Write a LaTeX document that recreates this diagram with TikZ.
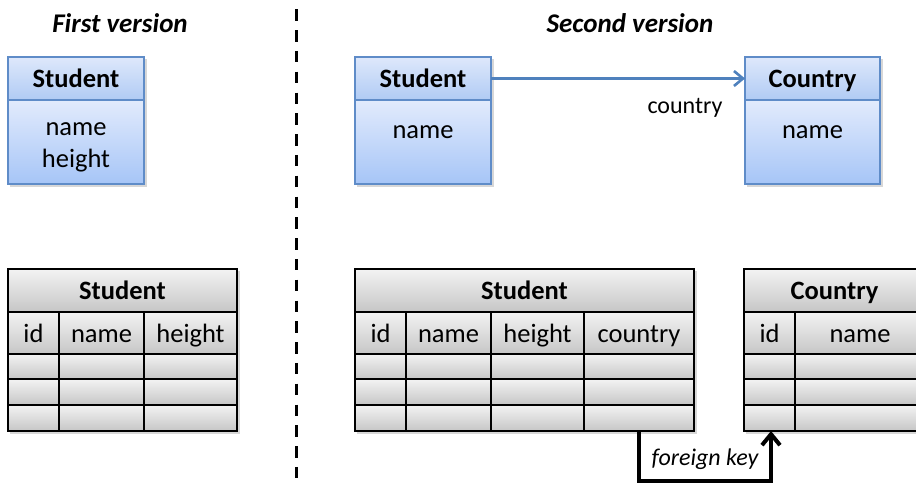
\documentclass[tikz,border=0pt]{standalone}
\usepackage{fontspec}
\setmainfont{Carlito}
\usetikzlibrary{arrows.meta,shadows}

\definecolor{umlline}{RGB}{95,140,200}
\definecolor{headtop}{RGB}{222,232,251}
\definecolor{headbot}{RGB}{176,203,244}
\definecolor{bodytop}{RGB}{226,235,252}
\definecolor{bodybot}{RGB}{166,197,247}
\definecolor{celltop}{RGB}{243,243,243}
\definecolor{cellbot}{RGB}{198,198,198}
\definecolor{linkblue}{RGB}{79,129,189}

% table cell: name, x1, y1, x2, y2, text
\newcommand\tcell[6]{%
  \node[cell, minimum width={(#4-#2)*1pt}, minimum height={(#5-#3)*1pt}]
    (#1) at ({(#2+#4)/2},{(#3+#5)/2}) {#6};}
% class box part: name, x1, y1, x2, y2, style, text
\newcommand\cpart[7]{%
  \node[#6, minimum width={(#4-#2)*1pt}, minimum height={(#5-#3)*1pt}]
    (#1) at ({(#2+#4)/2},{(#3+#5)/2}) {#7};}

\begin{document}
\begin{tikzpicture}[x=1pt,y=-1pt,
  every node/.style={font=\fontsize{26.5}{31}\selectfont, inner sep=0pt, outer sep=0pt,
    text height=20pt, text depth=2pt},
  cell/.style={draw=black, line width=1.4pt, top color=celltop, bottom color=cellbot},
  umlhead/.style={draw=umlline, line width=1.3pt, top color=headtop, bottom color=headbot,
    font=\fontsize{26.5}{31}\selectfont\bfseries},
  umlbody/.style={draw=umlline, line width=1.3pt, top color=bodytop, bottom color=bodybot},
  caption/.style={font=\fontsize{27}{32}\selectfont\bfseries\itshape},
  boxshadow/.style={fill=black!35, opacity=0.45},
]
\useasboundingbox (0,0) rectangle (916,485);
\clip (0,0) rectangle (916,485);

% headings
\node[caption] (cap1) at (120,23) {First version};
\node[caption] (cap2) at (630,23) {Second version};

% separator
\draw[line width=3pt, dash pattern=on 11.5pt off 9.3pt] (296,9.3) -- (296,490);

% soft shadows behind boxes and tables
\foreach \xa/\ya/\xb/\yb in {8/57/144/184, 355/57/491/184, 745/57/880/184,
                              8/269/237/431, 355/269/694/431, 744/269/925/431}
  \fill[boxshadow] (\xa+2,\ya+2) rectangle (\xb+2.5,\yb+3);

% ---------- class diagrams ----------
\cpart{u1h}{8}{57}{144}{100}{umlhead}{Student}
\cpart{u1b}{8}{100}{144}{184}{umlbody}{}
\node[align=center, text height=, text depth=, font=\fontsize{26.5}{32}\selectfont]
  (u1t) at (76,147) {name\\height};

\cpart{u2h}{355}{57}{491}{100}{umlhead}{Student}
\cpart{u2b}{355}{100}{491}{184}{umlbody}{}
\node (u2t) at (423,129) {name};

\cpart{u3h}{745}{57}{880}{100}{umlhead}{Country}
\cpart{u3b}{745}{100}{880}{184}{umlbody}{}
\node (u3t) at (812.5,129) {name};

\draw[linkblue, line width=2.6pt, -{Straight Barb[length=9pt,width=15pt]}]
  (u2h.east) -- (u3h.west);
\node[font=\fontsize{24}{28}\selectfont] (lbl) at (685,104) {country};

% ---------- tables ----------
% first version
\tcell{t1}{8}{269}{237}{312}{\bfseries Student}
\tcell{t1a}{8}{312}{59}{354}{id}
\tcell{t1b}{59}{312}{144}{354}{name}
\tcell{t1c}{144}{312}{237}{354}{height}
\foreach \ya/\yb [count=\r] in {354/379, 379/405, 405/431}{
  \tcell{t1r\r a}{8}{\ya}{59}{\yb}{}
  \tcell{t1r\r b}{59}{\ya}{144}{\yb}{}
  \tcell{t1r\r c}{144}{\ya}{237}{\yb}{}
}

% second version: student
\tcell{t2}{355}{269}{694}{312}{\bfseries Student}
\tcell{t2a}{355}{312}{406}{354}{id}
\tcell{t2b}{406}{312}{491}{354}{name}
\tcell{t2c}{491}{312}{584}{354}{height}
\tcell{t2d}{584}{312}{694}{354}{country}
\foreach \ya/\yb [count=\r] in {354/379, 379/405, 405/431}{
  \tcell{t2r\r a}{355}{\ya}{406}{\yb}{}
  \tcell{t2r\r b}{406}{\ya}{491}{\yb}{}
  \tcell{t2r\r c}{491}{\ya}{584}{\yb}{}
  \tcell{t2r\r d}{584}{\ya}{694}{\yb}{}
}

% second version: country
\tcell{t3}{744}{269}{925}{312}{\bfseries Country}
\tcell{t3a}{744}{312}{795}{354}{id}
\tcell{t3b}{795}{312}{925}{354}{name}
\foreach \ya/\yb [count=\r] in {354/379, 379/405, 405/431}{
  \tcell{t3r\r a}{744}{\ya}{795}{\yb}{}
  \tcell{t3r\r b}{795}{\ya}{925}{\yb}{}
}

% foreign key link
\coordinate (fkA) at (639,481);
\coordinate (fkB) at (771,481);
\draw[line width=4pt, -{Straight Barb[length=11pt,width=18pt]}]
  (t2r3d.south -| fkA) -- (fkA) -- (fkB) -- (t3r3a.south -| fkB);
\node[font=\fontsize{24}{28}\selectfont\itshape] (fk) at (705,456) {foreign key};
\end{tikzpicture}
\end{document}
